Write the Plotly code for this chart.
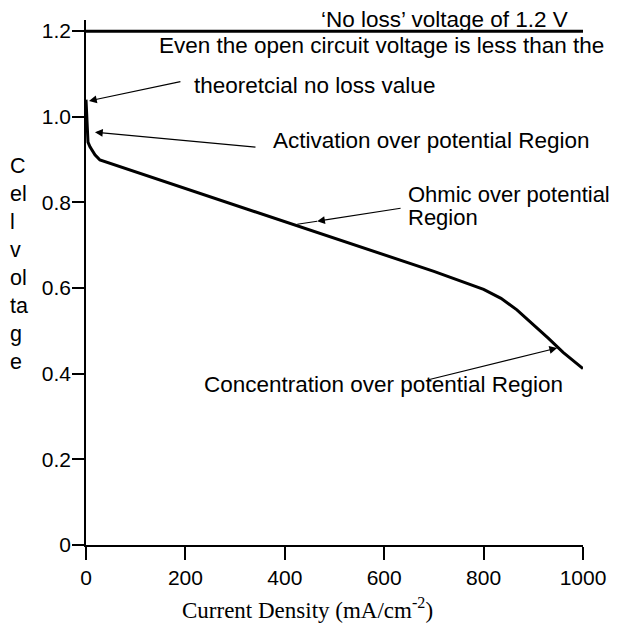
import plotly.graph_objects as go

# ---- data ----
current_density = [0, 2, 4, 8, 12, 18, 28, 100, 200, 300, 400, 500, 600, 700, 800,
                   835, 867, 900, 930, 960, 1000]
cell_voltage = [1.04, 0.962, 0.941, 0.93, 0.921, 0.911, 0.899, 0.871, 0.833, 0.794,
                0.755, 0.716, 0.678, 0.639, 0.597, 0.576, 0.549, 0.515, 0.483, 0.450, 0.412]
no_loss_x = [0, 1000]
no_loss_v = [1.2, 1.2]

x_ticks = [0, 200, 400, 600, 800, 1000]
y_ticks = [0, 0.2, 0.4, 0.6, 0.8, 1.0, 1.2]
y_tick_labels = ["0", "0.2", "0.4", "0.6", "0.8", "1.0", "1.2"]

SANS = "Liberation Sans, Arial, sans-serif"
SERIF = "Liberation Serif, Times New Roman, serif"
ANN_SIZE = 22.5

fig = go.Figure()
fig.add_trace(go.Scatter(x=no_loss_x, y=no_loss_v, mode="lines",
                         line=dict(color="black", width=3), showlegend=False,
                         hoverinfo="skip"))
fig.add_trace(go.Scatter(x=current_density, y=cell_voltage, mode="lines",
                         line=dict(color="black", width=3), showlegend=False))

# text labels (data coordinates)
texts = [
    dict(text="Even the open circuit voltage is less than the", x=143, y=1.166, size=ANN_SIZE),
    dict(text="theoretcial no loss value", x=214, y=1.074, size=ANN_SIZE),
    dict(text="Activation over potential Region", x=372, y=0.944, size=ANN_SIZE),
    dict(text="Ohmic over potential", x=644, y=0.818, size=22),
    dict(text="Region", x=644, y=0.765, size=22),
    dict(text="Concentration over potential Region", x=233, y=0.374, size=ANN_SIZE),
]
for t in texts:
    fig.add_annotation(text=t["text"], x=t["x"], y=t["y"], xref="x", yref="y",
                       xanchor="left", yanchor="middle", showarrow=False,
                       font=dict(family=SANS, size=t["size"], color="black"))
# label sitting just above the 1.2 V line (above the axis range, so paper y)
fig.add_annotation(text="\u2018No loss\u2019 voltage of 1.2 V", x=722, y=1.001,
                   xref="x", yref="paper", xanchor="center", yanchor="middle",
                   showarrow=False, font=dict(family=SANS, size=ANN_SIZE, color="black"))

# arrows (head x,y ; tail ax,ay)
arrows = [
    (6, 1.037, 193, 1.083),
    (18, 0.964, 344, 0.929),
    (465, 0.756, 636, 0.787),
    (948, 0.460, 686, 0.385),
]
for hx, hy, tx, ty in arrows:
    fig.add_annotation(text="", x=hx, y=hy, ax=tx, ay=ty, xref="x", yref="y",
                       axref="x", ayref="y", showarrow=True, arrowhead=2,
                       arrowsize=1.3, arrowwidth=1.2, arrowcolor="black")
# continuation of the ohmic arrow to the curve
fig.add_shape(type="line", x0=465, y0=0.756, x1=425, y1=0.749, xref="x", yref="y",
              line=dict(color="black", width=1.2))

# axis titles
fig.add_annotation(text="Current Density (mA/cm<sup>-2</sup>)", x=445, y=-0.12,
                   xref="x", yref="paper", xanchor="center", yanchor="middle",
                   showarrow=False, font=dict(family=SERIF, size=23, color="black"))
fig.add_annotation(text="C<br>el<br>l<br>v<br>ol<br>ta<br>g<br>e", x=-0.157, y=0.536,
                   xref="paper", yref="paper", xanchor="left", yanchor="middle",
                   align="left", showarrow=False,
                   font=dict(family=SANS, size=21.5, color="black"))

fig.update_xaxes(range=[0, 1000], tickvals=x_ticks, ticks="outside", ticklen=13,
                 tickwidth=2, tickcolor="black", showline=True, linecolor="black",
                 linewidth=1.5, showgrid=False, zeroline=False, automargin=False,
                 tickfont=dict(family=SANS, size=21, color="black"))
fig.update_yaxes(range=[0, 1.226], tickvals=y_ticks, ticktext=y_tick_labels,
                 ticks="outside", ticklen=12, tickwidth=2, tickcolor="black",
                 showline=True, linecolor="black", linewidth=1.5, showgrid=False,
                 zeroline=False, ticklabelstandoff=-3, automargin=False,
                 tickfont=dict(family=SANS, size=21, color="black"))

# the page body adds an 8px offset; keep the figure inside the visible area
fig.update_layout(width=602, height=618, margin=dict(l=78, r=27, t=12, b=81),
                  plot_bgcolor="white", paper_bgcolor="white")

fig.write_html("out.html")
